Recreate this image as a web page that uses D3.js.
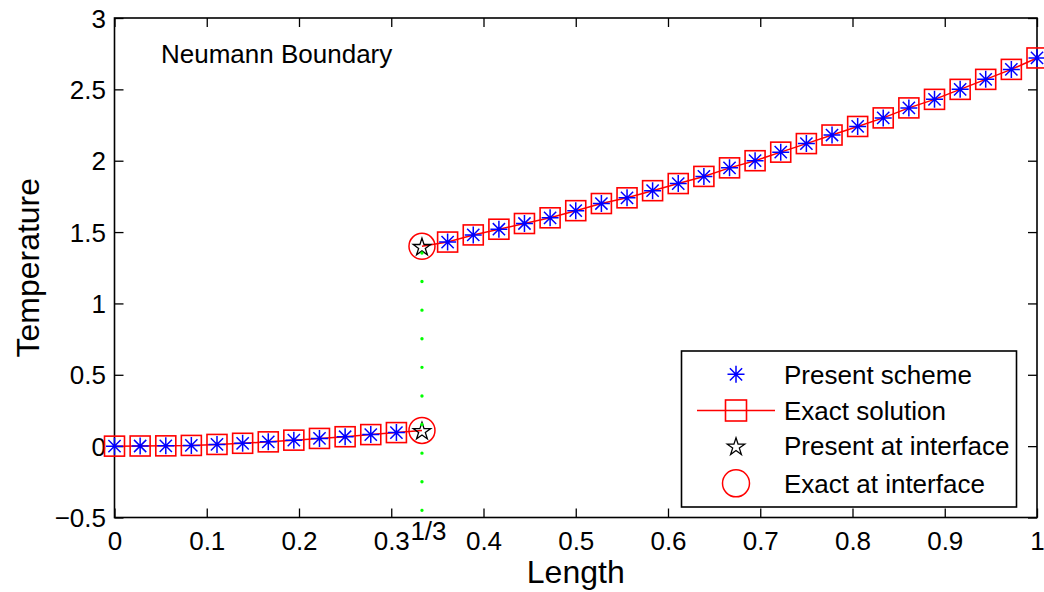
<!DOCTYPE html>
<html><head><meta charset="utf-8">
<script src="https://cdn.jsdelivr.net/npm/d3@7/dist/d3.min.js"></script>
<style>
html,body{margin:0;padding:0;background:#fff;}
svg text{font-family:"Liberation Sans",Arial,sans-serif;fill:#000;}
</style></head>
<body><svg id="chart" width="1044" height="592"></svg>
<script>
// ---- data ----
const xTicks = [0, 0.1, 0.2, 0.3, 0.4, 0.5, 0.6, 0.7, 0.8, 0.9, 1];
const xTickLabels = ["0", "0.1", "0.2", "0.3", "0.4", "0.5", "0.6", "0.7", "0.8", "0.9", "1"];
const yTicks = [-0.5, 0, 0.5, 1, 1.5, 2, 2.5, 3];
const yTickLabels = ["\u22120.5", "0", "0.5", "1", "1.5", "2", "2.5", "3"];

const xLeft = [0, 0.0278, 0.0556, 0.0833, 0.1111, 0.1389, 0.1667, 0.1944, 0.2222, 0.25, 0.2778, 0.3056];
const xRight = [0.3611, 0.3889, 0.4167, 0.4444, 0.4722, 0.5, 0.5278, 0.5556, 0.5833, 0.6111, 0.6389, 0.6667,
                0.6944, 0.7222, 0.75, 0.7778, 0.8056, 0.8333, 0.8611, 0.8889, 0.9167, 0.9444, 0.9722, 1];
const presentLeft = [0.000, 0.001, 0.002, 0.005, 0.012, 0.020, 0.030, 0.042, 0.054, 0.066, 0.081, 0.095];
const presentRight = [1.43, 1.48, 1.52, 1.56, 1.60, 1.65, 1.70, 1.74, 1.79, 1.84, 1.89, 1.95,
                      2.00, 2.06, 2.12, 2.18, 2.24, 2.30, 2.37, 2.43, 2.50, 2.57, 2.64, 2.72];
const exactLeft = [0.000, 0.001, 0.002, 0.005, 0.012, 0.020, 0.030, 0.042, 0.054, 0.066, 0.081, 0.095];
const exactRight = [1.43, 1.48, 1.52, 1.56, 1.60, 1.65, 1.70, 1.74, 1.79, 1.84, 1.89, 1.95,
                    2.00, 2.06, 2.12, 2.18, 2.24, 2.30, 2.37, 2.43, 2.50, 2.57, 2.64, 2.72];
const xInterface = 0.3333;
const interfaceValues = [0.11, 1.40];          // lower, upper
const interfaceLineRange = [-0.5, 1.40];       // dotted vertical line
const legendLabels = ["Present scheme", "Exact solution", "Present at interface", "Exact at interface"];
const titleText = "Neumann Boundary";
const xLabel = "Length", yLabel = "Temperature";

// ---- layout ----
const L = 114.5, R = 1037, T = 18, B = 517.5;
const FS = 26, LFS = 32;
const svg = d3.select("#chart");
const x = d3.scaleLinear().domain([0, 1]).range([L, R]);
const y = d3.scaleLinear().domain([-0.5, 3]).range([B, T]);

// frame
svg.append("rect").attr("x", L).attr("y", T).attr("width", R - L).attr("height", B - T)
  .attr("fill", "#fff").attr("stroke", "#000").attr("stroke-width", 1.6);

function styleAxis(g, labels) {
  g.select(".domain").remove();
  g.selectAll(".tick line").attr("stroke", "#000").attr("stroke-width", 1.3);
  if (!labels) g.selectAll(".tick text").remove();
  else g.selectAll(".tick text").attr("font-size", FS).attr("fill", "#000");
}
svg.append("g").attr("transform", `translate(0,${B})`)
  .call(d3.axisBottom(x).tickValues(xTicks).tickFormat((d, i) => xTickLabels[i]).tickSizeInner(-9).tickSizeOuter(0))
  .call(g => styleAxis(g, true))
  .call(g => g.selectAll(".tick text").attr("y", 32).attr("dy", null));
svg.append("g").attr("transform", `translate(0,${T})`)
  .call(d3.axisTop(x).tickValues(xTicks).tickSizeInner(-9).tickSizeOuter(0))
  .call(g => styleAxis(g, false));
svg.append("g").attr("transform", `translate(${L},0)`)
  .call(d3.axisLeft(y).tickValues(yTicks).tickFormat((d, i) => yTickLabels[i]).tickSizeInner(-9).tickSizeOuter(0))
  .call(g => styleAxis(g, true))
  .call(g => g.selectAll(".tick text").attr("x", -8.5).attr("dy", "0.35em"));
svg.append("g").attr("transform", `translate(${R},0)`)
  .call(d3.axisRight(y).tickValues(yTicks).tickSizeInner(-9).tickSizeOuter(0))
  .call(g => styleAxis(g, false));

// extra label 1/3
svg.append("text").attr("x", x(xInterface) + 6.5).attr("y", 540).attr("text-anchor", "middle")
  .attr("font-size", FS).text("1/3");

// axis labels and title
svg.append("text").attr("x", (L + R) / 2).attr("y", 583).attr("text-anchor", "middle")
  .attr("font-size", LFS).text(xLabel);
svg.append("text").attr("transform", `translate(39,${(T + B) / 2}) rotate(-90)`).attr("text-anchor", "middle")
  .attr("font-size", LFS).text(yLabel);
svg.append("text").attr("x", 161).attr("y", 63).attr("font-size", FS).text(titleText);

// symbols
const asterisk = s => `M${-s},0H${s}M0,${-s}V${s}M${-s*0.72},${-s*0.72}L${s*0.72},${s*0.72}M${-s*0.72},${s*0.72}L${s*0.72},${-s*0.72}`;
const starPath = d3.symbol(d3.symbolStar, 95)();

// exact solution lines (through the interface values)
const line = d3.line().x(d => x(d[0])).y(d => y(d[1]));
const leftLine = xLeft.map((v, i) => [v, exactLeft[i]]).concat([[xInterface, interfaceValues[0]]]);
const rightLine = [[xInterface, interfaceValues[1]]].concat(xRight.map((v, i) => [v, exactRight[i]]));
const plot = svg.append("g");
[leftLine, rightLine].forEach(dd => plot.append("path").attr("d", line(dd))
  .attr("fill", "none").attr("stroke", "#ff0000").attr("stroke-width", 1.5));

const exactPts = xLeft.map((v, i) => [v, exactLeft[i]]).concat(xRight.map((v, i) => [v, exactRight[i]]));
plot.selectAll("rect.sq").data(exactPts).join("rect").attr("class", "sq")
  .attr("x", d => x(d[0]) - 10).attr("y", d => y(d[1]) - 10).attr("width", 20).attr("height", 20)
  .attr("fill", "none").attr("stroke", "#ff0000").attr("stroke-width", 1.6);

const presentPts = xLeft.map((v, i) => [v, presentLeft[i]]).concat(xRight.map((v, i) => [v, presentRight[i]]));
plot.selectAll("path.ast").data(presentPts).join("path").attr("class", "ast")
  .attr("transform", d => `translate(${x(d[0])},${y(d[1])})`).attr("d", asterisk(8.5))
  .attr("fill", "none").attr("stroke", "#0000ff").attr("stroke-width", 1.5);

// interface markers
plot.selectAll("circle.ei").data(interfaceValues).join("circle").attr("class", "ei")
  .attr("cx", x(xInterface)).attr("cy", d => y(d)).attr("r", 13)
  .attr("fill", "none").attr("stroke", "#ff0000").attr("stroke-width", 1.5);
plot.selectAll("path.pi").data(interfaceValues).join("path").attr("class", "pi")
  .attr("transform", d => `translate(${x(xInterface)},${y(d) + 1})`).attr("d", starPath)
  .attr("fill", "none").attr("stroke", "#000").attr("stroke-width", 1.3);

// dotted green interface line
plot.append("line").attr("x1", x(xInterface)).attr("x2", x(xInterface))
  .attr("y1", y(interfaceLineRange[1])).attr("y2", y(interfaceLineRange[0]))
  .attr("stroke", "#00ff00").attr("stroke-width", 3.4).attr("stroke-linecap", "round")
  .attr("stroke-dasharray", "0,28.6").attr("stroke-dashoffset", 22);

// legend
const lg = svg.append("g");
lg.append("rect").attr("x", 681.5).attr("y", 351).attr("width", 335).attr("height", 156)
  .attr("fill", "#fff").attr("stroke", "#000").attr("stroke-width", 1.6);
const rowY = [374.3, 410.5, 446, 483.3];
const mx = 736;
lg.append("path").attr("transform", `translate(${mx},${rowY[0]})`).attr("d", asterisk(8.5))
  .attr("fill", "none").attr("stroke", "#0000ff").attr("stroke-width", 1.5);
lg.append("line").attr("x1", 697).attr("x2", 775).attr("y1", rowY[1]).attr("y2", rowY[1])
  .attr("stroke", "#ff0000").attr("stroke-width", 1.5);
lg.append("rect").attr("x", mx - 10.5).attr("y", rowY[1] - 10.5).attr("width", 21).attr("height", 21)
  .attr("fill", "none").attr("stroke", "#ff0000").attr("stroke-width", 1.6);
lg.append("path").attr("transform", `translate(${mx},${rowY[2] + 1})`).attr("d", starPath)
  .attr("fill", "none").attr("stroke", "#000").attr("stroke-width", 1.3);
lg.append("circle").attr("cx", mx).attr("cy", rowY[3]).attr("r", 13.5)
  .attr("fill", "none").attr("stroke", "#ff0000").attr("stroke-width", 1.5);
lg.selectAll("text.lt").data(legendLabels).join("text").attr("class", "lt")
  .attr("x", 784).attr("y", (d, i) => rowY[i]).attr("dy", "0.36em").attr("font-size", FS).text(d => d);
</script></body></html>
